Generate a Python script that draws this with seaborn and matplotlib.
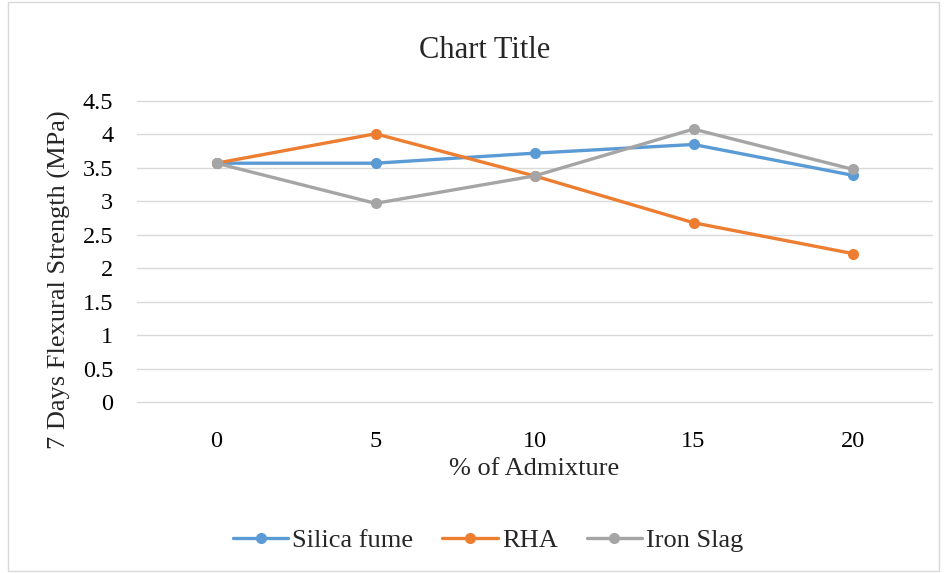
import matplotlib
matplotlib.use("Agg")
import matplotlib.pyplot as plt
import seaborn as sns
import pandas as pd
from matplotlib.patches import Rectangle
from matplotlib.lines import Line2D

categories = ["0", "5", "10", "15", "20"]
silica_fume = [3.57, 3.57, 3.72, 3.85, 3.39]
rha = [3.57, 4.01, 3.38, 2.68, 2.22]
iron_slag = [3.57, 2.97, 3.38, 4.08, 3.48]
series_names = ["Silica fume", "RHA", "Iron Slag"]
y_ticks = [0, 0.5, 1, 1.5, 2, 2.5, 3, 3.5, 4, 4.5]
y_tick_labels = ["0", "0.5", "1", "1.5", "2", "2.5", "3", "3.5", "4", "4.5"]
colors = ["#5B9BD5", "#ED7D31", "#A5A5A5"]

rows = []
for name, vals in zip(series_names, [silica_fume, rha, iron_slag]):
    for i, v in enumerate(vals):
        rows.append({"pos": i, "value": v, "series": name})
df = pd.DataFrame(rows)

sns.set_style("white")
plt.rcParams['font.family'] = ['Liberation Serif', 'DejaVu Serif']

fig = plt.figure(figsize=(9.47, 5.73), dpi=100)
ax = fig.add_axes([137/947, 1-402/573, (932-137)/947, (402-101)/573])

sns.lineplot(data=df, x="pos", y="value", hue="series", hue_order=series_names,
             palette=colors, marker="o", markersize=8, markeredgewidth=0,
             linewidth=2.4, ax=ax, legend=False)

ax.set_xlim(-0.5, 4.5)
ax.set_ylim(0, 4.5)
ax.set_yticks(y_ticks)
ax.set_yticklabels(y_tick_labels)
ax.set_xticks(range(len(categories)))
ax.set_xticklabels(categories)
ax.yaxis.grid(True, color="#D9D9D9", linewidth=1.0)
for gl in ax.yaxis.get_gridlines():
    gl.set_clip_on(False)
ax.set_axisbelow(True)
ax.xaxis.grid(False)
for s in ax.spines.values():
    s.set_visible(False)
ax.tick_params(axis="both", length=0, labelsize=17.5, colors="#000000")
ax.tick_params(axis="y", pad=17)
ax.tick_params(axis="x", pad=21)
ax.set_xlabel("% of Admixture", fontsize=19, labelpad=4)
ax.set_ylabel("7 Days Flexural Strength (MPa)", fontsize=19)
ax.yaxis.set_label_coords((71 - 137) / 795, (402 - 280) / 301)
fig.text(485/947, 1-50/573, "Chart Title", fontsize=22, ha="center", va="center")

handles = [Line2D([0], [0], color=c, marker="o", markersize=8, linewidth=2.4,
                  markeredgewidth=0) for c in colors]
fig.legend(handles, series_names, loc="center", bbox_to_anchor=(488/947, 1-540/573),
           ncol=3, frameon=False, fontsize=19, handlelength=2.1, columnspacing=1.1,
           handletextpad=0.15)

fig.patches.append(Rectangle((8/947, 0.003), 1-16/947, 0.994, transform=fig.transFigure,
                             fill=False, edgecolor="#D9D9D9", linewidth=1.0))

fig.savefig("out.png", dpi=100, facecolor="white")
